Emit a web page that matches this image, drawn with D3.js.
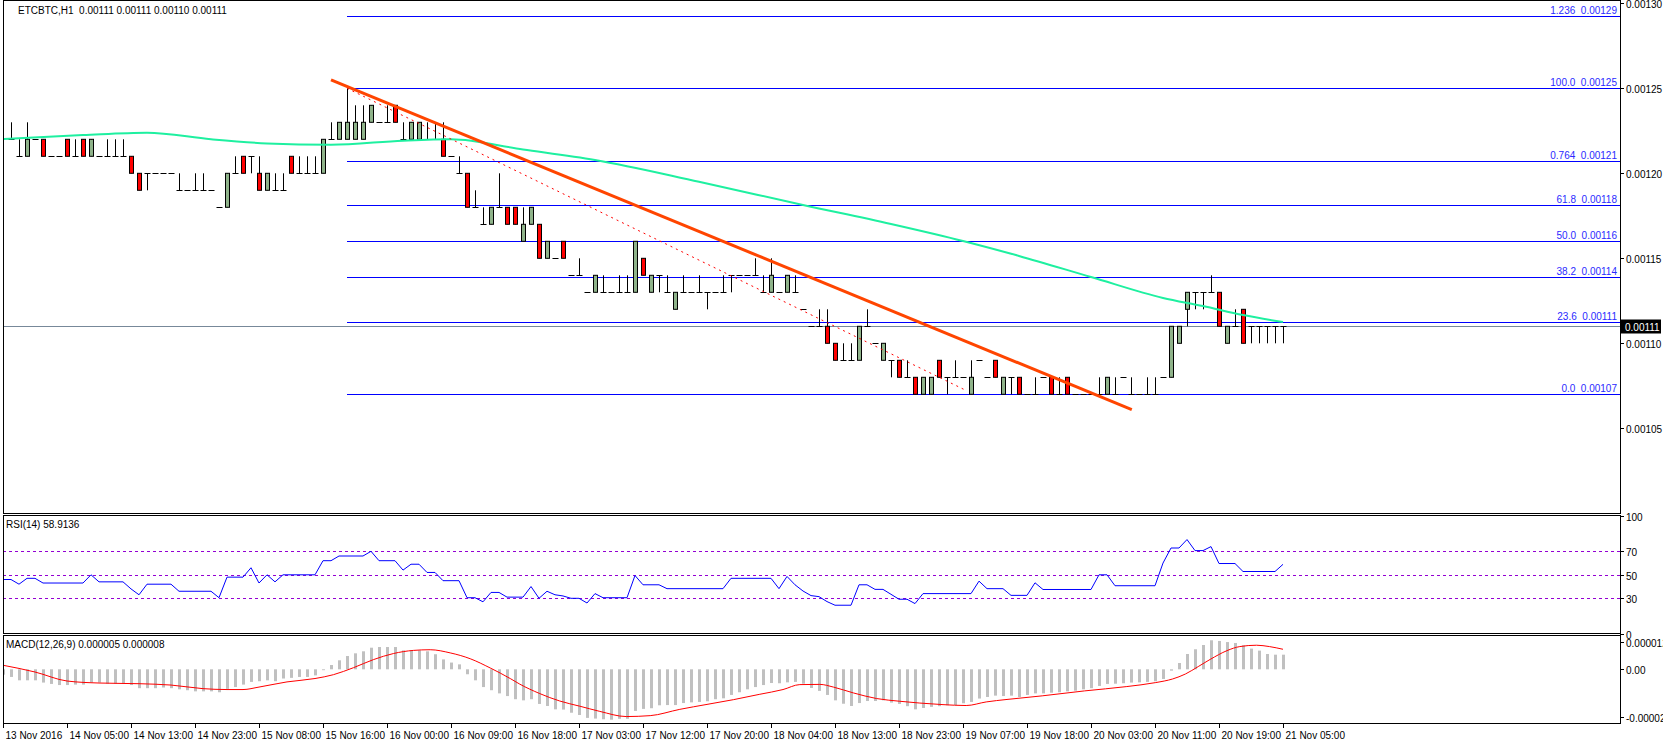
<!DOCTYPE html>
<html><head><meta charset="utf-8">
<script src="https://cdn.jsdelivr.net/npm/d3@7"></script>
<style>body{margin:0;background:#fff}svg{display:block}text{font-family:"Liberation Sans",Arial,sans-serif;font-size:10px}</style>
</head><body><svg id="c" width="1663" height="744"></svg>
<script>
// prices in units of 0.00001 BTC
const priceUnit = 1e-5;
const opens  = [null,122,121,121,122,122,121,121,122,121,122,121,121,121,121,121,121,120,120,120,120,120,119,119,119,119,119,118,118,120,121,121,120,119,119,119,121,120,120,120,120,122,122,122,122,122,123,123,123,124,122,122,122,122,122,122,121,120,120,118,117,117,118,118,118,116,117,117,115,115,116,114,114,113,113,113,113,113,113,113,115,113,114,113,112,113,113,113,113,113,113,114,114,114,114,113,113,113,113,113,112,111,111,111,110,109,109,109,111,110,109,109,109,108,108,107,107,109,108,108,108,107,109,108,109,107,108,108,107,107,108,108,107,108,107,107,107,107,107,107,108,107,107,107,107,108,108,110,112,113,113,113,113,110,111,112,111,111,111,111,111];
const highs  = [null,123,122,123,122,122,121,121,122,122,122,122,121,122,122,122,121,120,120,120,120,120,120,119,120,120,119,118,120,121,121,121,121,120,120,120,121,121,121,121,122,123,123,125,124,124,124,123,124,124,123,123,123,123,123,123,121,121,120,119,118,118,120,118,118,118,118,117,116,115,116,114,115,113,114,114,113,114,114,116,115,114,114,114,113,114,113,114,113,113,114,114,114,114,115,114,115,113,114,114,112,111,112,112,110,110,110,111,112,110,110,109,109,109,108,108,108,109,108,109,108,109,109,108,109,108,108,108,107,108,108,108,108,108,107,107,107,108,108,108,108,108,107,108,108,108,111,111,113,113,113,114,113,111,112,112,111,111,111,111,111];
const lows   = [null,122,121,121,122,121,121,121,121,121,121,121,121,121,121,121,120,119,119,120,120,120,119,119,119,119,119,118,118,120,120,120,119,119,119,119,120,120,120,120,120,122,122,122,122,122,123,123,123,123,122,122,122,122,122,121,121,120,118,118,117,117,118,117,117,116,117,115,115,115,115,114,114,113,113,113,113,113,113,113,114,113,113,113,112,113,113,113,112,113,113,113,114,114,114,113,113,113,113,113,112,111,111,110,109,109,109,109,111,110,109,108,108,108,107,107,107,108,107,108,108,107,109,108,108,107,107,107,107,107,108,107,107,107,107,107,107,107,107,107,108,107,107,107,107,108,108,110,111,112,112,113,111,110,111,110,110,110,110,110,110];
const closes = [null,122,121,122,122,121,121,121,121,121,121,122,121,121,121,121,120,119,120,120,120,120,119,119,119,119,119,118,120,120,120,121,119,120,119,119,120,120,120,120,122,122,123,123,123,123,124,123,123,123,122,123,123,122,122,121,121,120,118,118,117,118,118,117,117,117,118,115,116,115,115,114,114,113,114,113,113,113,113,116,114,114,114,113,113,113,113,113,113,113,113,114,114,114,114,113,114,113,114,113,112,111,111,110,109,109,109,111,111,110,110,109,108,108,107,108,108,108,108,108,108,108,109,108,108,108,108,107,107,107,108,107,107,107,107,107,107,107,108,107,108,107,107,107,107,108,111,111,113,113,113,113,111,111,111,110,111,111,111,111,111];
// 100-period MA (read at key bars): [bar, price]
const maPoints = [[0,122.02],[10,122.25],[18,122.39],[26,122.0],[33,121.76],[41,121.68],[50,121.92],[56,122.0],[65,121.4],[74,120.78],[87,119.5],[100,118.14],[111,117.02],[120,116.02],[127,115.14],[136,113.9],[145,112.67],[150,112.19],[155,111.66],[160,111.25]];
const fibLevels = [["1.236",129.25],["100.0",125],["0.764",120.75],["61.8",118.12],["50.0",116],["38.2",113.88],["23.6",111.25],["0.0",107]];
const fibPriceLabels = ["0.00129","0.00125","0.00121","0.00118","0.00116","0.00114","0.00111","0.00107"];
const trendThick = [[41,125.49],[141.1,106.1]];
const trendDotted = [[43,125],[120.5,107.2]];
const arrowPts = [[153.6,116.9],[158.1,116.9],[158.1,114.8],[160.25,114.8],[155.9,112.56],[151.5,114.8],[153.6,114.8]];
const lastPrice = 111;
const priceTicks = [130,125,120,115,110,105];
const rsiValues = [46,46,42,47,47,43,43,43,43,43,43,50,44,44,44,44,38,33,42,42,42,42,36,36,36,36,36,30.5,48,48,48,56,43,50,44,50,50,50,50,50,62,62,66,66,66,66,70,62,62,62,54,59,59,52,52,45,45,45,30.5,30.5,27,35,35,31,31,31,40,30,36,33,32,30,30,26,34,30.5,30.5,30.5,30.5,49.4,41.5,41.5,41.5,38.2,38.2,38.2,38.2,38.2,38.2,38.2,38.2,47,47,47,47,47,47,38.2,48.6,41.5,36.2,32.3,31.4,27.2,24.1,24.1,24.1,41.5,41.5,37.6,37.6,33.4,29.2,29.2,25.5,34,34,34,34,34,34,34,44.6,38.2,38.2,38.2,32.5,32.5,32.5,43.2,37.5,37.5,37.5,37.5,37.5,37.5,37.5,50,50,40.7,40.7,40.7,40.7,40.7,40.7,60,72.8,72.8,80,70.6,70.6,74,59.6,59.6,59.6,52.8,52.8,52.8,52.8,52.8,58.9];
const rsiLevels = [70,50,30];
const rsiTicks = [100,70,50,30,0];
// MACD histogram (units of 1e-6)
const macdHist = [-2.4,-3.4,-4.9,-4.9,-4.9,-5.9,-6.5,-7,-7,-6.8,-6.8,-5.9,-5.9,-6.4,-6.4,-6.4,-7,-8.4,-8.4,-8.4,-8.1,-8.4,-8.9,-9.3,-9.8,-9.8,-9.8,-10.2,-8.7,-7.9,-6.8,-5.6,-5.3,-4.9,-5.3,-4.1,-3.8,-3.4,-3.4,-2.7,-0.4,1.9,4,5.9,7.1,8,9.6,9.9,9.9,9.9,8.4,8.4,8.4,8,6.7,4.4,3,2.2,-2.2,-4.9,-7.9,-9.3,-10.7,-11.9,-13.3,-13.8,-13.3,-15.4,-16.3,-17.8,-17.9,-19.3,-20.3,-21.6,-21.9,-22.2,-22.4,-22,-22,-18.5,-17.6,-17.3,-16,-15.9,-15.9,-15,-14.7,-14.5,-14.2,-13.3,-12.9,-11.4,-10.2,-8.9,-7.9,-7,-6.1,-6.2,-5.8,-5.6,-6.4,-8.3,-9.6,-11.4,-13.8,-15.3,-16.3,-15,-14.1,-14.1,-13.8,-14.8,-15.4,-16.4,-17.8,-17.2,-16.7,-16.4,-16,-15.9,-15.1,-14.5,-13,-12.3,-11.7,-11.9,-11.7,-12.3,-11.4,-10.7,-10.7,-10.4,-10.2,-9.8,-9.5,-8.9,-8.4,-7.4,-6.5,-6.4,-6.2,-5.9,-5.8,-5.6,-5.3,-4.3,-0.6,2.8,6.8,8.9,10.8,12.9,12.6,12.1,11.7,10.7,9.2,8.3,6.8,6.5,6.5];
const macdSignal = [[0,1.8],[4,-1.2],[8,-5.2],[12,-6.1],[17,-6.4],[21,-7],[25,-8.6],[28,-9],[30,-9],[32,-7.9],[35.5,-5.6],[39,-4.1],[41.3,-2.4],[43.8,0.7],[46.3,4.3],[48.8,7],[51.3,8.4],[53.4,8.7],[55.9,7.3],[58.4,4.7],[60.9,0.6],[63.4,-4.1],[64.6,-6.6],[67.1,-10.8],[69.6,-14.1],[72.1,-16.4],[74.6,-18.7],[77.9,-21],[80.9,-20.6],[84.6,-17.8],[88,-15.6],[91.3,-13.5],[94.6,-11.1],[97.5,-9],[99.6,-6.8],[102.1,-6.7],[103.8,-7.9],[106.3,-10.5],[109.2,-13],[112.1,-14.2],[114.6,-15],[117.5,-15.7],[120.4,-16.1],[122.9,-14.5],[125.5,-13.4],[129.9,-11.8],[135.2,-9.6],[140.4,-7.7],[144.1,-5.9],[146.2,-4.3],[147.8,-2.1],[149.4,1.2],[150.9,4.4],[153,8.3],[154.6,10.1],[156.7,10.7],[158.3,10.1],[160,8.9]];
const macdTicks = [[12,"0.000012"],[0,"0.00"],[-21,"-0.000021"]];
const timeLabels = ["13 Nov 2016","14 Nov 05:00","14 Nov 13:00","14 Nov 23:00","15 Nov 08:00","15 Nov 16:00","16 Nov 00:00","16 Nov 09:00","16 Nov 18:00","17 Nov 03:00","17 Nov 12:00","17 Nov 20:00","18 Nov 04:00","18 Nov 13:00","18 Nov 23:00","19 Nov 07:00","19 Nov 18:00","20 Nov 03:00","20 Nov 11:00","20 Nov 19:00","21 Nov 05:00"];

const svg = d3.select("#c");
const L = 3, R = 1620;
const main = {t:0,b:513}, rsiP = {t:515,b:633}, macdP = {t:635,b:723};
const x = d3.scaleLinear().domain([0,160]).range([3,1283]);
const y = d3.scaleLinear().domain([107,125]).range([394.3,88.3]);
const yR = d3.scaleLinear().domain([30,70]).range([598.3,551.3]);
const yM = d3.scaleLinear().domain([0,12]).range([669.3,642.3]);
const fmt = v => (v*priceUnit).toFixed(5);

[main,rsiP,macdP].forEach(p=>svg.append("rect").attr("x",L+0.5).attr("y",p.t+0.5).attr("width",R-L).attr("height",p.b-p.t).attr("fill","none").attr("stroke","#000"));

svg.append("clipPath").attr("id","cm").append("rect").attr("x",L+1).attr("y",main.t+1).attr("width",R-L-1).attr("height",main.b-main.t-1);
const gM = svg.append("g").attr("clip-path","url(#cm)");

fibLevels.forEach((f,k)=>{
  const yy = Math.round(y(f[1]))+0.5;
  gM.append("line").attr("x1",x(43)).attr("x2",R).attr("y1",yy).attr("y2",yy).attr("stroke","#0000ff").attr("stroke-width",1);
  gM.append("text").attr("x",R-3).attr("y",yy-3).attr("text-anchor","end").attr("fill","#2a2aff").attr("xml:space","preserve").text(f[0]+"  "+fibPriceLabels[k]);
});
gM.append("line").attr("x1",L).attr("x2",R).attr("y1",Math.round(y(lastPrice))+0.5).attr("y2",Math.round(y(lastPrice))+0.5).attr("stroke","#778899");

d3.range(1,161).forEach(i=>{
  const cx = Math.round(x(i))+0.5;
  gM.append("line").attr("x1",cx).attr("x2",cx).attr("y1",y(highs[i])).attr("y2",y(lows[i])).attr("stroke","#000");
  const o=opens[i], c=closes[i];
  if(o===c){
    gM.append("line").attr("x1",cx-3).attr("x2",cx+3).attr("y1",Math.round(y(o))+0.5).attr("y2",Math.round(y(o))+0.5).attr("stroke","#000");
  } else {
    const top=y(Math.max(o,c)), bot=y(Math.min(o,c));
    gM.append("rect").attr("x",cx-2).attr("y",top).attr("width",4).attr("height",bot-top)
      .attr("fill",c>o?"#8fb38a":"#ff0000").attr("stroke","#000").attr("stroke-width",1);
  }
});
gM.append("path").datum(maPoints).attr("fill","none").attr("stroke","#1ef0a0").attr("stroke-width",2)
  .attr("d",d3.line().x(d=>x(d[0])).y(d=>y(d[1])).curve(d3.curveMonotoneX));
gM.append("path").datum(trendDotted).attr("fill","none").attr("stroke","#ff0000").attr("stroke-width",1).attr("stroke-dasharray","2,4")
  .attr("d",d3.line().x(d=>x(d[0])).y(d=>y(d[1])));
gM.append("path").datum(trendThick).attr("fill","none").attr("stroke","#ff4500").attr("stroke-width",3)
  .attr("d",d3.line().x(d=>x(d[0])).y(d=>y(d[1])));
gM.append("path").datum(arrowPts).attr("fill","#fff").attr("stroke","#e8202a").attr("stroke-width",3).attr("stroke-linejoin","miter")
  .attr("d",d3.line().x(d=>x(d[0])).y(d=>y(d[1]))+"Z");

svg.append("text").attr("x",18).attr("y",14).attr("xml:space","preserve").text("ETCBTC,H1  0.00111 0.00110 0.00110 0.00111".replace(" 0.00110 0.00110"," 0.00111 0.00110").replace("0.00111 0.00111 0.00110","0.00111 0.00111 0.00110"));

priceTicks.forEach(p=>{
  const yy=Math.round(y(p))+0.5;
  svg.append("line").attr("x1",R).attr("x2",R+4).attr("y1",yy).attr("y2",yy).attr("stroke","#000");
  svg.append("text").attr("x",R+6).attr("y",yy+4).text(fmt(p));
});
const ly = Math.round(y(lastPrice))+0.5;
svg.append("rect").attr("x",R+1).attr("y",ly-7).attr("width",40).attr("height",14).attr("fill","#000");
svg.append("text").attr("x",R+5).attr("y",ly+4).attr("fill","#fff").text(fmt(lastPrice));

svg.append("clipPath").attr("id","cr").append("rect").attr("x",L+1).attr("y",rsiP.t+1).attr("width",R-L-1).attr("height",rsiP.b-rsiP.t-1);
const gR = svg.append("g").attr("clip-path","url(#cr)");
rsiLevels.forEach(v=>gR.append("line").attr("x1",L).attr("x2",R).attr("y1",Math.round(yR(v))+0.5).attr("y2",Math.round(yR(v))+0.5).attr("stroke","#9400d3").attr("stroke-dasharray","3,3"));
gR.append("path").datum(rsiValues).attr("fill","none").attr("stroke","#0000ff").attr("stroke-width",1)
  .attr("d",d3.line().x((d,i)=>x(i)).y(d=>yR(d)));
svg.append("text").attr("x",6).attr("y",rsiP.t+13).text("RSI(14) 58.9136");
rsiTicks.forEach(v=>{
  const yy=Math.round(yR(v))+0.5;
  svg.append("line").attr("x1",R).attr("x2",R+4).attr("y1",yy).attr("y2",yy).attr("stroke","#000");
  svg.append("text").attr("x",R+6).attr("y",yy+4).text(v);
});

svg.append("clipPath").attr("id","cmd").append("rect").attr("x",L+1).attr("y",macdP.t+1).attr("width",R-L-1).attr("height",macdP.b-macdP.t-1);
const gD = svg.append("g").attr("clip-path","url(#cmd)");
macdHist.forEach((v,i)=>{
  const y0=yM(0), y1=yM(v);
  gD.append("rect").attr("x",Math.round(x(i))-1).attr("y",Math.min(y0,y1)).attr("width",3).attr("height",Math.abs(y1-y0)).attr("fill","#c0c0c0");
});
gD.append("path").datum(macdSignal).attr("fill","none").attr("stroke","#ff0000").attr("stroke-width",1)
  .attr("d",d3.line().x(d=>x(d[0])).y(d=>yM(d[1])).curve(d3.curveMonotoneX));
svg.append("text").attr("x",6).attr("y",macdP.t+13).text("MACD(12,26,9) 0.000005 0.000008");
macdTicks.forEach(t=>{
  const yy=Math.round(yM(t[0]))+0.5;
  svg.append("line").attr("x1",R).attr("x2",R+4).attr("y1",yy).attr("y2",yy).attr("stroke","#000");
  svg.append("text").attr("x",R+6).attr("y",yy+4).text(t[1]);
});

timeLabels.forEach((t,k)=>{
  const xx=Math.round(x(k*8))+0.5;
  svg.append("line").attr("x1",xx).attr("x2",xx).attr("y1",macdP.b).attr("y2",macdP.b+5).attr("stroke","#000");
  svg.append("text").attr("x",xx+2).attr("y",macdP.b+16).text(t);
});
</script></body></html>
